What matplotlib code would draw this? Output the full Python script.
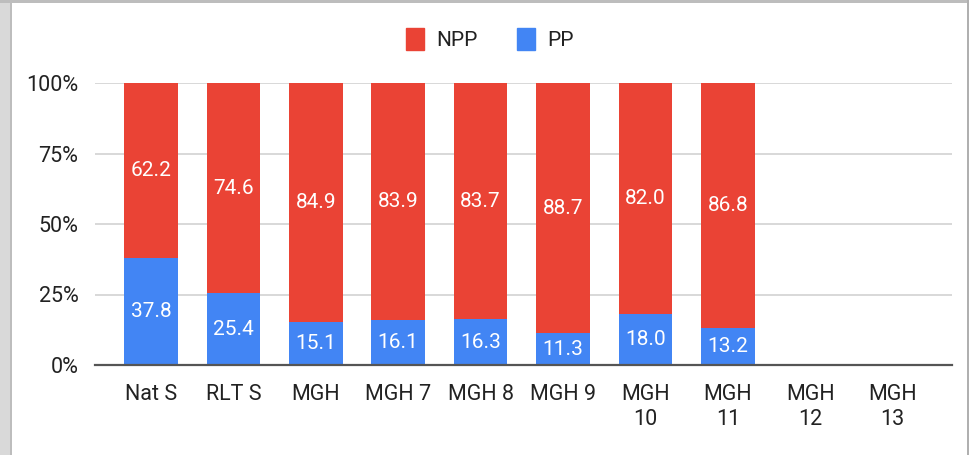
import matplotlib
matplotlib.use("Agg")
import matplotlib.pyplot as plt
from matplotlib.patches import Patch, Rectangle

categories = ["Nat S", "RLT S", "MGH", "MGH 7", "MGH 8", "MGH 9", "MGH\n10", "MGH\n11", "MGH\n12", "MGH\n13"]
npp = [62.2, 74.6, 84.9, 83.9, 83.7, 88.7, 82.0, 86.8, None, None]
pp = [37.8, 25.4, 15.1, 16.1, 16.3, 11.3, 18.0, 13.2, None, None]
yticks = [0, 25, 50, 75, 100]
ytick_labels = ["0%", "25%", "50%", "75%", "100%"]

RED = "#EA4335"
BLUE = "#4285F4"

plt.rcParams['font.family'] = ['Roboto', 'DejaVu Sans']
FS = 15.5

W, H = 970, 455
fig = plt.figure(figsize=(W / 100, H / 100), dpi=100)
ax = fig.add_axes([95 / W, 1 - 365 / H, (952 - 95) / W, (365 - 83) / H])

x = list(range(len(categories)))
bw = 0.65
for i in x:
    if pp[i] is None:
        continue
    ax.bar(i, pp[i], width=bw, color=BLUE, zorder=3)
    ax.bar(i, npp[i], bottom=pp[i], width=bw, color=RED, zorder=3)
    ax.text(i, pp[i] / 2, f"{pp[i]:.1f}", ha="center", va="center", color="white", fontsize=15, zorder=4)
    ax.text(i, pp[i] + npp[i] / 2, f"{npp[i]:.1f}", ha="center", va="center", color="white", fontsize=15, zorder=4)

ax.set_xlim(-0.68, 9.72)
ax.set_ylim(0, 100)
ax.set_yticks(yticks)
ax.set_yticklabels(ytick_labels)
ax.set_xticks(x)
ax.set_xticklabels(categories, linespacing=1.2)
ax.tick_params(axis="both", length=0, labelsize=FS, colors="#222222")
ax.tick_params(axis="y", pad=12)
ax.tick_params(axis="x", pad=14)
ax.grid(axis="y", color="#d6d6d6", linewidth=1.3, zorder=0)
for s in ["top", "right", "left"]:
    ax.spines[s].set_visible(False)
ax.spines["bottom"].set_color("#555555")
ax.spines["bottom"].set_linewidth(1.6)
ax.spines["bottom"].set_zorder(5)

handles = [Patch(facecolor=RED, edgecolor=RED, label="NPP"), Patch(facecolor=BLUE, edgecolor=BLUE, label="PP")]
fig.legend(handles=handles, loc="center", bbox_to_anchor=(490 / W, 1 - 39 / H), ncol=2, frameon=False,
           fontsize=15, handlelength=0.85, handleheight=1.25, columnspacing=1.9, handletextpad=0.6,
           labelcolor="#222222")

# screenshot border
fig.patches.append(Rectangle((0, 0), 10 / W, 1, transform=fig.transFigure, facecolor="#d9d9d9", edgecolor="none", zorder=0))
fig.patches.append(Rectangle((10 / W, 0), 2 / W, 1, transform=fig.transFigure, facecolor="#bdbdbd", edgecolor="none", zorder=0))
fig.patches.append(Rectangle((0, 1 - 3 / H), 1, 3 / H, transform=fig.transFigure, facecolor="#bdbdbd", edgecolor="none", zorder=0))
fig.patches.append(Rectangle((967 / W, 0), 3 / W, 1, transform=fig.transFigure, facecolor="#b0b0b0", edgecolor="none", zorder=0))

fig.savefig("out.png", dpi=100)
